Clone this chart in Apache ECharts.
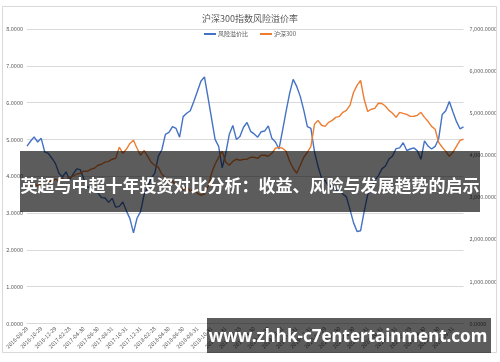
<!DOCTYPE html>
<html><head><meta charset="utf-8">
<script src="https://cdn.jsdelivr.net/npm/echarts@6/dist/echarts.min.js"></script>
<style>html,body{margin:0;padding:0;background:#fff}#c{width:500px;height:362px}</style>
</head><body><div id="c"></div>
<script>
const tickLabels = ['2016-08-29','2016-10-29','2016-12-29','2017-02-28','2017-04-30','2017-06-30','2017-08-31','2017-10-31','2017-12-31','2018-02-28','2018-04-30','2018-06-30','2018-08-31','2018-10-31','2018-12-31','2019-02-28','2019-04-30','2019-06-30','2019-08-31','2019-10-31','2019-12-31','2020-02-29','2020-04-30','2020-06-30','2020-08-31','2020-10-31','2020-12-31','2021-02-28','2021-04-30','2021-06-30','2021-08-31'];
const riskPremium = [4.82,4.95,5.07,4.93,5.03,4.66,4.62,4.49,4.35,4.08,
3.98,4.12,3.90,4.06,4.20,4.18,3.93,3.70,3.71,3.59,
3.55,3.42,3.41,3.29,3.40,3.16,3.18,3.30,3.06,2.85,
2.46,2.86,3.04,3.50,3.70,3.95,4.08,4.54,4.72,5.14,
5.19,5.35,5.30,5.06,5.62,5.71,5.78,6.03,6.30,6.58,
6.70,6.14,5.57,5.00,4.81,4.23,4.62,5.14,5.38,5.00,
5.08,5.33,5.46,5.22,5.15,5.06,5.21,5.23,5.37,5.03,
4.93,4.74,5.24,5.76,6.25,6.63,6.44,6.17,5.79,5.35,
5.30,4.67,4.27,3.95,3.88,3.73,3.74,3.62,3.63,3.52,
3.44,3.10,2.74,2.50,2.52,3.04,3.50,3.65,3.90,4.01,
4.20,4.28,4.47,4.55,4.75,4.77,4.91,4.70,4.74,4.77,
4.69,4.46,4.96,4.82,4.74,4.81,5.02,5.68,5.78,6.03,
5.75,5.49,5.29,5.34];
const hs300 = [3360,3290,3335,3262,3330,3338,3385,3380,3430,3385,
3455,3405,3480,3500,3550,3570,3620,3618,3668,3690,
3762,3785,3835,3855,3905,3925,4190,4045,4140,4280,
4355,4165,3998,4115,3975,3832,3760,3715,3548,3478,
3405,3382,3285,3240,3168,3262,3145,3192,3098,3048,
3075,3240,3570,3785,3950,4095,3832,3762,3855,3905,
3880,3902,3905,3950,3952,3925,4000,3998,3975,4045,
4165,4188,4165,4092,3856,3690,3572,3760,3952,4070,
4212,4735,4828,4712,4686,4782,4828,4900,4922,5020,
5065,5185,5490,5660,5778,5330,5040,5092,5112,5235,
5230,5162,5065,4996,4900,5020,4994,4972,4922,4925,
4948,5020,4900,4806,4686,4617,4305,4190,4092,3975,
4070,4212,4352,4380];
const seriesNames = ['风险溢价比','沪深300'];
const titleText = '沪深300指数风险溢价率';
const bannerText = '英超与中超十年投资对比分析：收益、风险与发展趋势的启示';
const watermarkText = 'www.zhhk-c7entertainment.com';

// categories: each tick date followed by three intermediate dates
const categories = [];
tickLabels.forEach(t => {
  for (let k = 0; k < 4; k++) {
    if (k === 0) { categories.push(t); continue; }
    const d = new Date(t + 'T00:00:00Z');
    d.setUTCDate(d.getUTCDate() + k * 15);
    categories.push(d.toISOString().slice(0, 10));
  }
});

const chart = echarts.init(document.getElementById('c'), null, {renderer: 'canvas'});
const gray = '#595959';
const font = '"Noto Sans CJK SC","Noto Sans",sans-serif';
chart.setOption({
  animation: false,
  backgroundColor: '#fff',
  textStyle: {fontFamily: font},
  title: {text: titleText, left: 'center', top: 9,
    textStyle: {fontSize: 9, fontWeight: 'normal', color: gray, fontFamily: font}},
  legend: {top: 26, left: 'center', itemWidth: 12, itemHeight: 2, itemGap: 12, icon: 'rect',
    textStyle: {fontSize: 6, color: gray, padding: [0, 0, 0, -3]}, data: seriesNames},
  grid: {left: 27, right: 33, top: 29, bottom: 38.5, containLabel: false},
  xAxis: {type: 'category', data: categories, boundaryGap: false,
    axisLine: {lineStyle: {color: '#d9d9d9'}}, axisTick: {show: false},
    axisLabel: {interval: 3, rotate: 45, fontSize: 5.5, color: gray, margin: 4}},
  yAxis: [
    {type: 'value', min: 0, max: 8, interval: 1,
      axisLabel: {fontSize: 5.5, color: gray, margin: 4, formatter: v => v.toFixed(4)},
      splitLine: {lineStyle: {color: '#d9d9d9', width: 1}}, axisLine: {show: false}, axisTick: {show: false}},
    {type: 'value', min: 0, max: 7000, interval: 1000, position: 'right',
      axisLabel: {fontSize: 5.5, color: gray, margin: 6,
        formatter: v => v.toLocaleString('en-US') + '.0000'},
      splitLine: {show: false}, axisLine: {show: false}, axisTick: {show: false}}
  ],
  series: [
    {name: seriesNames[0], type: 'line', data: riskPremium, showSymbol: false, yAxisIndex: 0,
      lineStyle: {color: '#4472C4', width: 1.4}, itemStyle: {color: '#4472C4'}},
    {name: seriesNames[1], type: 'line', data: hs300, showSymbol: false, yAxisIndex: 1,
      lineStyle: {color: '#ED7D31', width: 1.4}, itemStyle: {color: '#ED7D31'}}
  ],
  graphic: [
    {type: 'rect', shape: {x: 2.5, y: 6.5, width: 494, height: 346}, style: {fill: 'none', stroke: '#d9d9d9', lineWidth: 1}, z: 100},
    {type: 'rect', shape: {x: 20, y: 151, width: 460, height: 61}, style: {fill: 'rgba(0,0,0,0.64)'}, z: 100},
    {type: 'text', x: 250, y: 186, style: {text: bannerText, fill: '#fff', fontSize: 17, fontWeight: 'bold', fontFamily: font, align: 'center', verticalAlign: 'middle'}, z: 101},
    {type: 'rect', shape: {x: 207, y: 318, width: 284, height: 35}, style: {fill: 'rgba(0,0,0,0.64)'}, z: 100},
    {type: 'text', x: 348, y: 337, style: {text: watermarkText, fill: '#fff', fontSize: 17, fontWeight: 'bold', fontFamily: '"Noto Sans","Open Sans",sans-serif', align: 'center', verticalAlign: 'middle'}, z: 101}
  ]
});
</script></body></html>
